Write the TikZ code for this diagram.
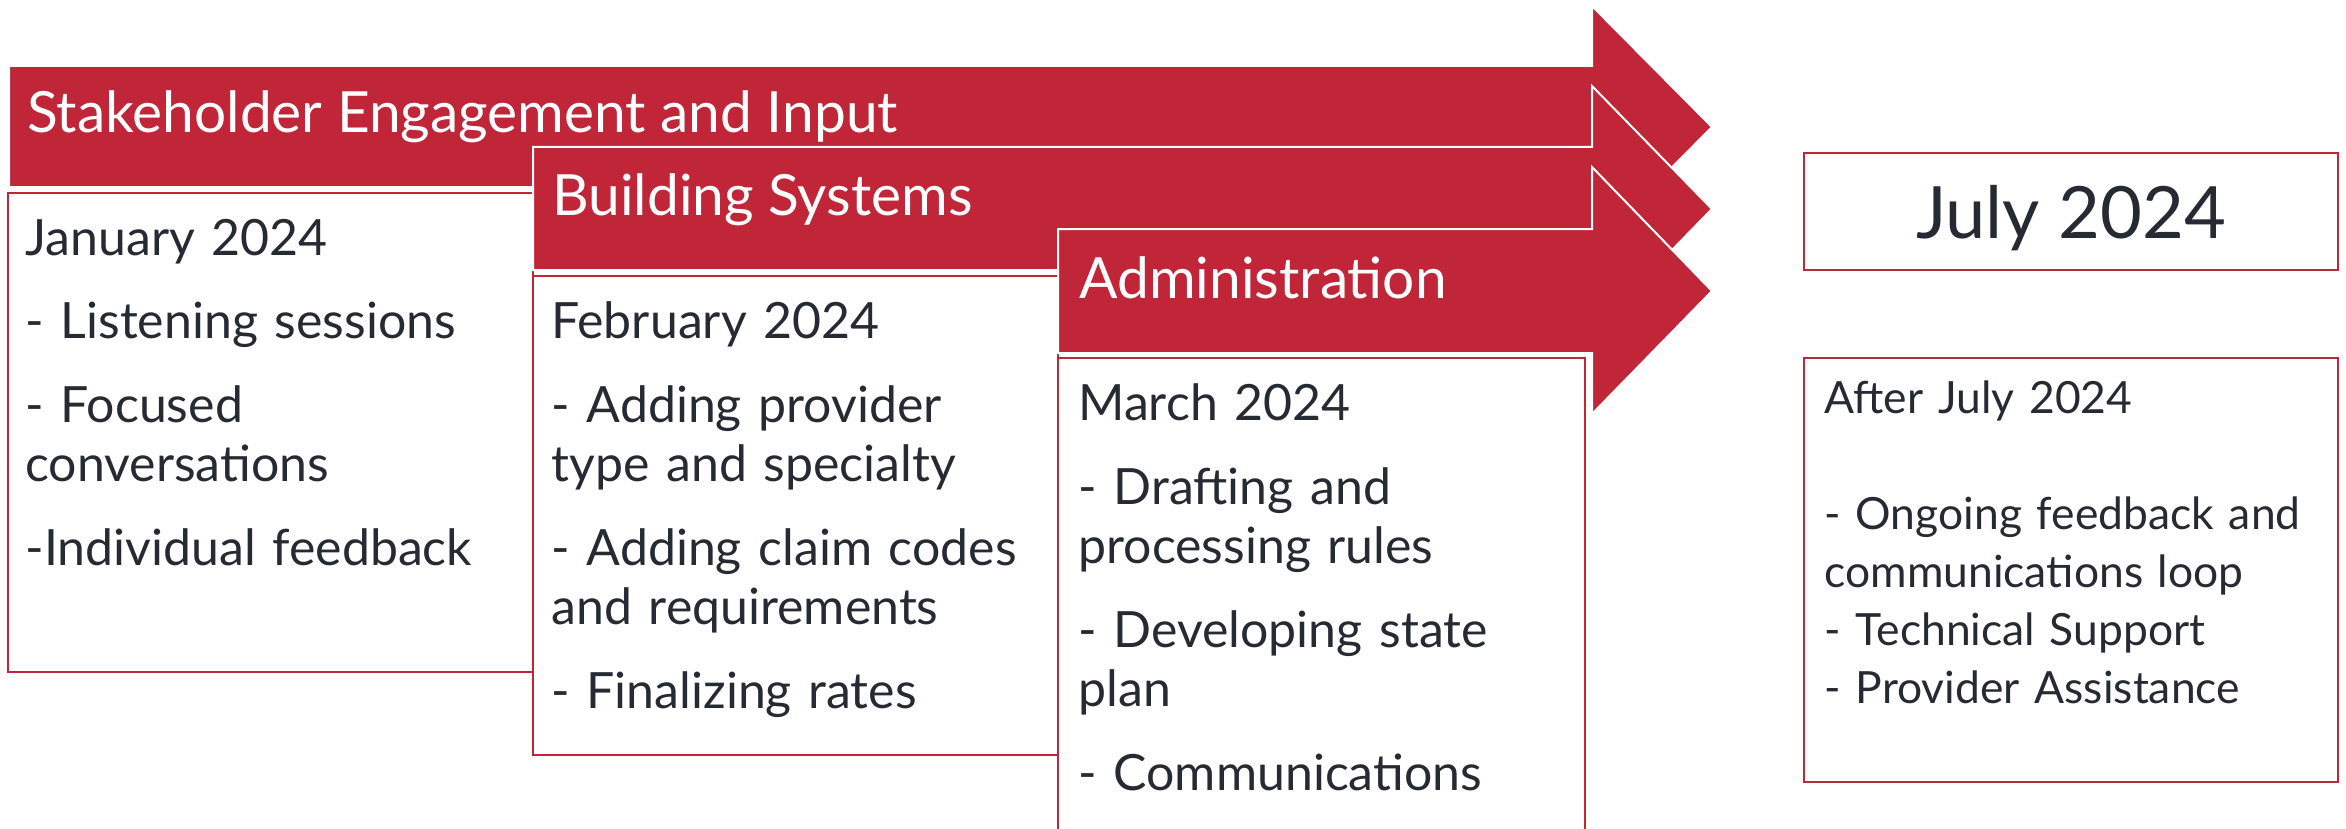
\documentclass[tikz,border=0pt]{standalone}
\usepackage{fontspec}
\setmainfont{Lato}
\definecolor{colorStage}{RGB}{193,37,56}
\definecolor{colorText}{RGB}{38,43,51}
\tikzset{
  stage/.style={fill=colorStage, draw=white, line width=1pt},
  stage title/.style={anchor=base west, inner sep=0pt, text=white, font=\fontsize{28.4}{33}\selectfont},
  month box/.style={draw=colorStage, fill=white, line width=1pt},
  month text/.style={anchor=base west, inner sep=0pt, text=colorText, text width=300pt, align=left, font=\fontsize{25}{29.5}\selectfont},
}

\begin{document}
\begin{tikzpicture}[x=0.5pt, y=-0.5pt]
\useasboundingbox (0,0) rectangle (2346,829);
% stage 1
\path[stage] (9,66) -- (1592,66) -- (1592,6) -- (1712,127) -- (1592,248) -- (1592,187) -- (9,187) -- cycle;
\node[stage title] (stakeholder) at (27,133) {Stakeholder Engagement and Input};
\path[month box] (8,193) rectangle (533,672);
\node[month text] (january) at (25,255) {January 2024\\[12.5pt]
  - Listening sessions\\[12.5pt]
  - Focused\\ conversations\\[12.5pt]
  -Individual feedback};
% stage 2
\path[stage] (533,147) -- (1592,147) -- (1592,86) -- (1712,209) -- (1592,332) -- (1592,270) -- (533,270) -- cycle;
\node[stage title] (building) at (552,215) {Building Systems};
\path[month box] (533,276) rectangle (1058,755);
\node[month text] (february) at (551,338) {February 2024\\[12.5pt]
  - Adding provider\\ type and specialty\\[12.5pt]
  - Adding claim codes\\ and requirements\\[12.5pt]
  - Finalizing rates};
% stage 3
\path[stage] (1058,229) -- (1592,229) -- (1592,167) -- (1712,291) -- (1592,414) -- (1592,353) -- (1058,353) -- cycle;
\node[stage title] (administration) at (1079,298) {Administration};
\path[month box] (1058,358) rectangle (1585,860);
\node[month text] (march) at (1078,420) {March 2024\\[12.5pt]
  - Drafting and\\ processing rules\\[12.5pt]
  - Developing state\\ plan\\[12.5pt]
  - Communications};
% go live
\path[month box] (1804,153) rectangle (2338,270);
\node[anchor=base, inner sep=0pt, text=colorText, font=\fontsize{36.1}{43}\selectfont] (july) at (2071,238) {July 2024};
\path[month box] (1804,358) rectangle (2338,782);
\node[month text, font=\fontsize{22.2}{29}\selectfont] (after) at (1824,413) {After July 2024\\[29pt]
  - Ongoing feedback and\\ communications loop\\
  - Technical Support\\
  - Provider Assistance};
\end{tikzpicture}
\end{document}
